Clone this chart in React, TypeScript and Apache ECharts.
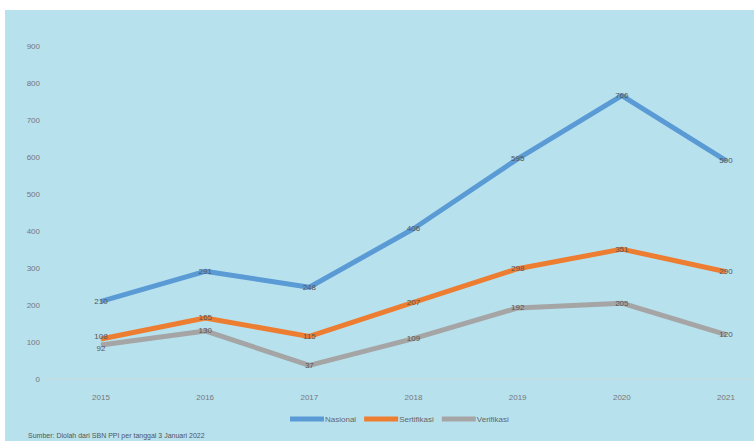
import React, { useEffect, useRef } from "react";
import * as echarts from "echarts";

const years = ["2015", "2016", "2017", "2018", "2019", "2020", "2021"];
const nasional = [210, 291, 248, 406, 595, 766, 590];
const sertifikasi = [108, 165, 115, 207, 298, 351, 290];
const verifikasi = [92, 130, 37, 109, 192, 205, 120];
const seriesNames = ["Nasional", "Sertifikasi", "Verifikasi"];
const sourceText = "Sumber: Diolah dari SBN PPI per tanggal 3 Januari 2022";

export default function App() {
  const ref = useRef<HTMLDivElement>(null);
  useEffect(() => {
    if (!ref.current) return;
    const chart = echarts.init(ref.current, null, { renderer: "svg" });
    const mk = (name: string, data: number[], color: string, firstOffset?: number[]) => ({
      name,
      type: "line",
      data: data.map((v, i) =>
        i === 0 && firstOffset ? { value: v, label: { offset: firstOffset } } : v
      ),
      symbol: "circle",
      symbolSize: 1,
      showSymbol: true,
      lineStyle: { color, width: 5 },
      itemStyle: { color },
      label: {
        show: true,
        position: "inside",
        color: "#555",
        fontSize: 8,
        fontFamily: "Liberation Sans",
      },
    });
    chart.setOption({
      animation: false,
      graphic: [
        {
          type: "rect",
          left: 5,
          top: 10,
          shape: { width: 749, height: 431 },
          style: { fill: "#B8E1EE" },
          z: -10,
        },
        {
          type: "line",
          shape: { x1: 45, y1: 379, x2: 754, y2: 379 },
          style: { stroke: "#cfd8dc", lineWidth: 1 },
          z: -5,
        },
        {
          type: "text",
          left: 28,
          top: 432,
          style: {
            text: sourceText,
            fill: "#555",
            fontSize: 7,
            fontFamily: "Liberation Sans",
          },
        },
      ],
      grid: { left: 101, top: 46, right: 28, bottom: 62, containLabel: false },
      legend: {
        data: seriesNames,
        left: 285,
        top: 410,
        itemWidth: 34,
        itemHeight: 5,
        itemGap: 8,
        icon: "rect",
        textStyle: { color: "#666", fontSize: 8, fontFamily: "Liberation Sans", padding: [0, 0, 0, -4] },
      },
      xAxis: {
        type: "category",
        data: years,
        boundaryGap: false,
        axisLine: { show: false },
        axisTick: { show: false },
        axisLabel: { color: "#777", fontSize: 8, margin: 14, fontFamily: "Liberation Sans" },
      },
      yAxis: {
        type: "value",
        min: 0,
        max: 900,
        interval: 100,
        axisLine: { show: false },
        axisTick: { show: false },
        splitLine: { show: false },
        axisLabel: { color: "#777", fontSize: 8, margin: 61, fontFamily: "Liberation Sans" },
      },
      series: [
        mk(seriesNames[0], nasional, "#5B9BD5"),
        mk(seriesNames[1], sertifikasi, "#ED7D31", [0, -3]),
        mk(seriesNames[2], verifikasi, "#A5A5A5", [0, 4]),
      ],
    });
    return () => chart.dispose();
  }, []);
  return (
    <div
      ref={ref}
      style={{ position: "fixed", left: 0, top: 0, width: 754, height: 441, background: "#fff" }}
    />
  );
}
